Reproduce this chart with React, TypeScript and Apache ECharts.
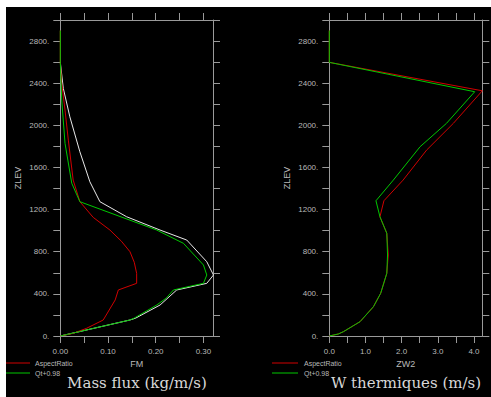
import { useEffect, useRef } from "react";
import * as echarts from "echarts";

// Tick / label values
const yTicks = [0, 200, 400, 600, 800, 1000, 1200, 1400, 1600, 1800, 2000, 2200, 2400, 2600, 2800, 3000];
const yLabels = [0, 400, 800, 1200, 1600, 2000, 2400, 2800];
const fmTicks = [0, 0.05, 0.1, 0.15, 0.2, 0.25, 0.3];
const fmLabels = [0, 0.1, 0.2, 0.3];
const w2Ticks = [0, 0.5, 1, 1.5, 2, 2.5, 3, 3.5, 4];
const w2Labels = [0, 1, 2, 3, 4];

// Left panel: mass flux FM vs ZLEV
const fmWhiteZ = [0, 152, 170, 294, 437, 500, 579, 705, 911, 1006, 1132, 1275, 1464, 1749, 2081, 2351, 2600];
const fmWhiteV = [0, 0.146, 0.158, 0.209, 0.244, 0.307, 0.321, 0.307, 0.265, 0.209, 0.139, 0.083, 0.062, 0.041, 0.02, 0.0063, 0];
const fmRedZ = [0, 25, 73, 152, 342, 437, 500, 595, 700, 800, 900, 1006, 1126, 1275, 1480, 1860, 2145, 2398, 2600, 2900];
const fmRedV = [0, 0.027, 0.055, 0.09, 0.115, 0.1216, 0.16, 0.16, 0.155, 0.146, 0.128, 0.104, 0.069, 0.041, 0.027, 0.0168, 0.0099, 0.003, 0, 0];
const fmGreenZ = [0, 152, 170, 294, 360, 437, 500, 579, 674, 880, 1006, 1275, 1450, 1829, 2240, 2600, 2900];
const fmGreenV = [0, 0.146, 0.155, 0.202, 0.222, 0.237, 0.3, 0.307, 0.3, 0.258, 0.202, 0.041, 0.024, 0.0099, 0.003, 0, 0];

// Right panel: W thermiques ZW2 vs ZLEV
const w2RedZ = [0, 19, 41, 136, 278, 405, 595, 769, 975, 1132, 1284, 1480, 1765, 2019, 2328, 2598, 2900];
const w2RedV = [0, 0.25, 0.39, 0.85, 1.22, 1.42, 1.59, 1.63, 1.59, 1.4, 1.51, 2.04, 2.69, 3.43, 4.23, 0, 0];
const w2GreenZ = [0, 19, 41, 136, 278, 405, 595, 769, 975, 1132, 1284, 1480, 1797, 2019, 2319, 2598, 2900];
const w2GreenV = [0, 0.25, 0.39, 0.85, 1.22, 1.42, 1.59, 1.61, 1.59, 1.4, 1.29, 1.77, 2.51, 3.24, 4.02, 0, 0];

const legendNames = ["AspectRatio", "Qt+0.98"];

const AXIS = "#9a9a9a";
const LABEL = "#b8b8b8";
const FONT = "Liberation Sans";
const RED = "#d00000";
const GREEN = "#00c800";
const WHITE = "#e8e8e8";

const pairs = (v: number[], z: number[]) => v.map((x, i) => [x, z[i]]);

function xAxisDef(grid: number, pos: "bottom" | "top", max: number, ticks: number[], labels: number[], digits: number, name?: string) {
  return {
    type: "value",
    gridIndex: grid,
    position: pos,
    min: 0,
    max,
    name: name,
    nameLocation: "middle",
    nameGap: 21,
    nameTextStyle: { color: LABEL, fontSize: 9, fontFamily: FONT },
    axisLine: { show: true, onZero: false, lineStyle: { color: AXIS, width: 1 } },
    axisTick: { show: true, inside: false, length: 7, customValues: ticks, lineStyle: { color: AXIS } },
    axisLabel: {
      show: pos === "bottom",
      customValues: labels,
      margin: 11,
      color: LABEL,
      fontSize: 8,
      fontFamily: FONT,
      formatter: (v: number) => v.toFixed(digits),
    },
    splitLine: { show: false },
  };
}

function yAxisDef(grid: number, pos: "left" | "right", name?: string) {
  return {
    type: "value",
    gridIndex: grid,
    position: pos,
    min: 0,
    max: 3000,
    name: name,
    nameLocation: "middle",
    nameGap: 38,
    nameTextStyle: { color: LABEL, fontSize: 9, fontFamily: FONT },
    axisLine: { show: true, onZero: false, lineStyle: { color: AXIS, width: 1 } },
    axisTick: { show: true, inside: false, length: 7, customValues: yTicks, lineStyle: { color: AXIS } },
    axisLabel: {
      show: pos === "left",
      customValues: yLabels,
      margin: 11,
      color: LABEL,
      fontSize: 8,
      fontFamily: FONT,
      formatter: (v: number) => `${v}.`,
    },
    splitLine: { show: false },
  };
}

function lineSeries(name: string, color: string, data: number[][], xi: number, yi: number) {
  return {
    type: "line",
    name,
    xAxisIndex: xi,
    yAxisIndex: yi,
    data,
    showSymbol: false,
    symbol: "none",
    smooth: false,
    lineStyle: { color, width: 1 },
    itemStyle: { color },
  };
}

function legendGraphics(x0: number, x1: number, tx: number) {
  const colors = [RED, GREEN];
  const ys = [356, 366];
  const out: any[] = [];
  legendNames.forEach((n, i) => {
    out.push({ type: "line", shape: { x1: x0, y1: ys[i], x2: x1, y2: ys[i] }, style: { stroke: colors[i], lineWidth: 1 } });
    out.push({
      type: "text",
      x: tx,
      y: ys[i],
      style: { text: n, fill: LABEL, fontSize: 7, fontFamily: FONT, verticalAlign: "middle", align: "left" },
    });
  });
  return out;
}

export default function App() {
  const ref = useRef<HTMLDivElement>(null);
  useEffect(() => {
    if (!ref.current) return;
    const chart = echarts.init(ref.current, undefined, { renderer: "svg" });
    chart.setOption({
      animation: false,
      backgroundColor: "#000",
      grid: [
        { left: 54.3, top: 13, width: 152.7, height: 316 },
        { left: 323.3, top: 13, width: 153, height: 316 },
      ],
      xAxis: [
        xAxisDef(0, "bottom", 0.32, fmTicks, fmLabels, 2, "FM"),
        xAxisDef(0, "top", 0.32, fmTicks, fmLabels, 2),
        xAxisDef(1, "bottom", 4.23, w2Ticks, w2Labels, 1, "ZW2"),
        xAxisDef(1, "top", 4.23, w2Ticks, w2Labels, 1),
      ],
      yAxis: [yAxisDef(0, "left", "ZLEV"), yAxisDef(0, "right"), yAxisDef(1, "left", "ZLEV"), yAxisDef(1, "right")],
      series: [
        lineSeries("ref", WHITE, pairs(fmWhiteV, fmWhiteZ), 0, 0),
        lineSeries(legendNames[0], RED, pairs(fmRedV, fmRedZ), 0, 0),
        lineSeries(legendNames[1], GREEN, pairs(fmGreenV, fmGreenZ), 0, 0),
        lineSeries(legendNames[0], RED, pairs(w2RedV, w2RedZ), 2, 2),
        lineSeries(legendNames[1], GREEN, pairs(w2GreenV, w2GreenZ), 2, 2),
      ],
      graphic: [
        ...legendGraphics(0, 24, 29),
        ...legendGraphics(266, 292, 298),
        {
          type: "text",
          x: 131,
          y: 376,
          style: { text: "Mass flux (kg/m/s)", fill: "#d8d8d8", fontSize: 15, fontFamily: "DejaVu Serif", align: "center", verticalAlign: "middle" },
        },
        {
          type: "text",
          x: 400,
          y: 376,
          style: { text: "W thermiques (m/s)", fill: "#d8d8d8", fontSize: 15, fontFamily: "DejaVu Serif", align: "center", verticalAlign: "middle" },
        },
      ],
    });
    return () => chart.dispose();
  }, []);
  return <div ref={ref} style={{ position: "fixed", left: 6, top: 7, width: 485, height: 390 }} />;
}
